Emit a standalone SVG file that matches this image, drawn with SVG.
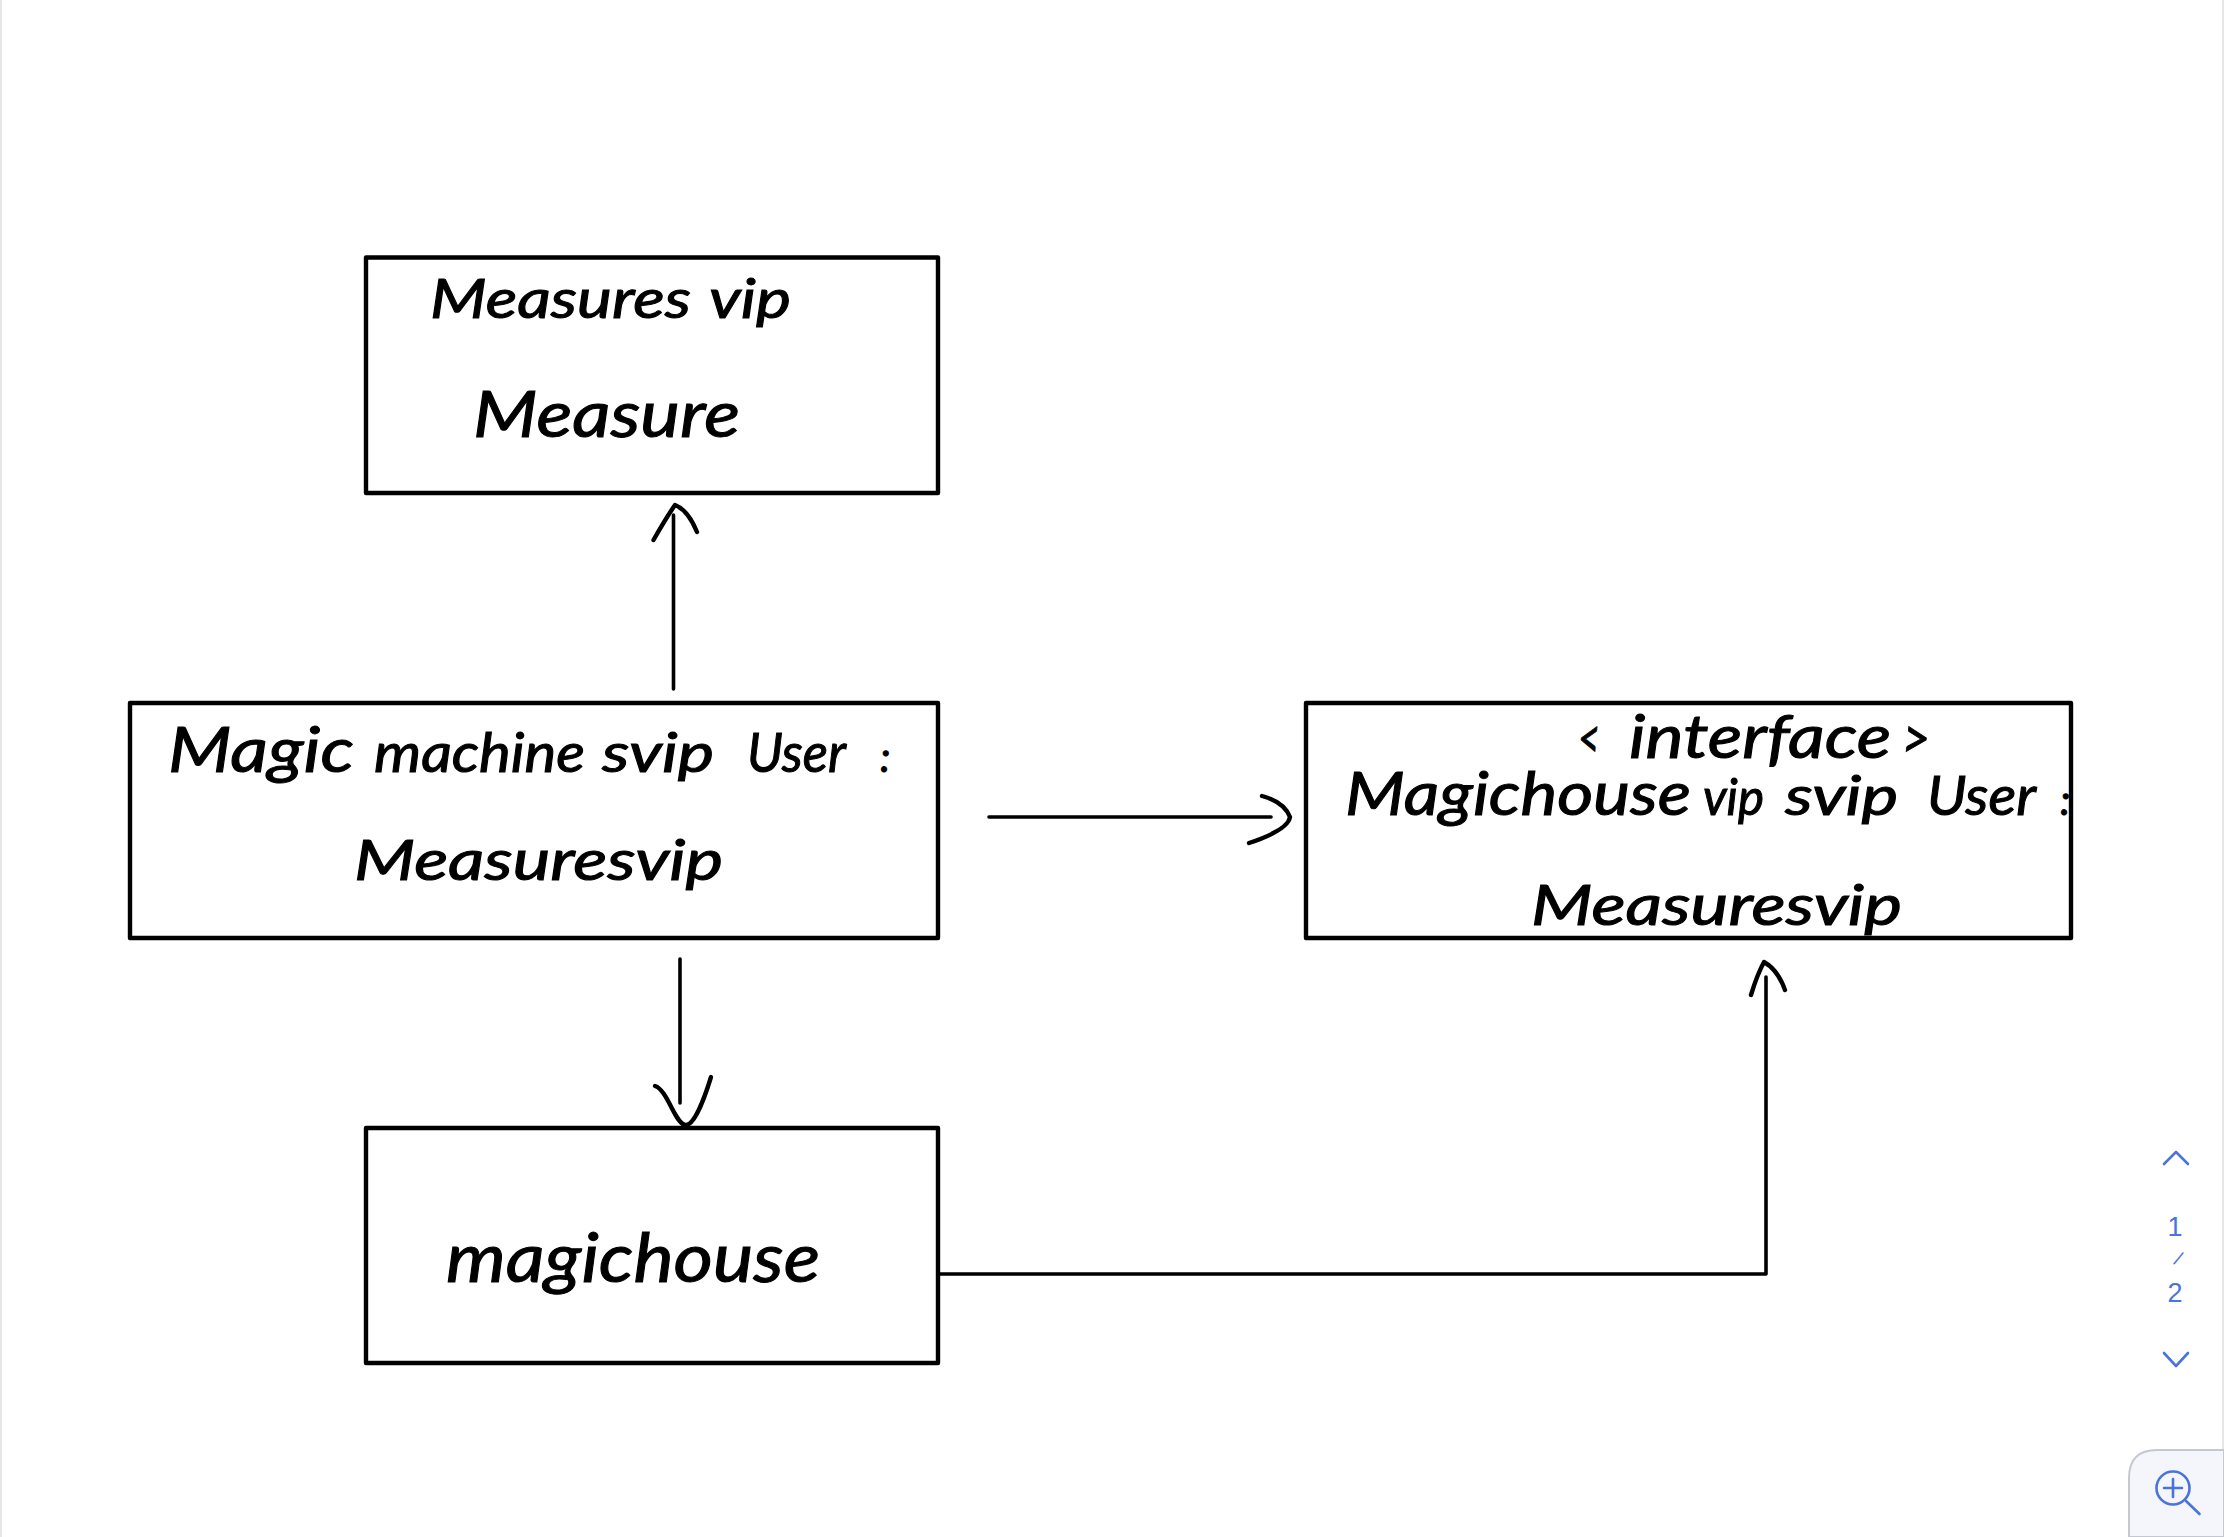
<svg xmlns="http://www.w3.org/2000/svg" width="2224" height="1537" viewBox="0 0 2224 1537">
<defs>
<style>
.box{fill:none;stroke:#000;stroke-width:4.4;stroke-linejoin:round}
.hw{font-family:"Lato","Open Sans",sans-serif;font-style:italic;fill:#000;stroke:#000;stroke-width:1;paint-order:stroke}
.wire{fill:none;stroke:#000;stroke-width:3.6;stroke-linecap:round;stroke-linejoin:round}
.head{fill:none;stroke:#000;stroke-width:4.4;stroke-linecap:round;stroke-linejoin:round}
.ui{fill:none;stroke:#4a74db;stroke-width:2.6;stroke-linecap:round;stroke-linejoin:round}
.uit{font-family:"Liberation Sans",Arial,sans-serif;font-size:27px;fill:#4a74db;text-anchor:middle}
</style>
</defs>
<rect width="2224" height="1537" fill="#fff"/>
<g id="page-edges"><path d="M1 0V1537M2223 0V1450" fill="none" stroke="#dcdee2" stroke-width="1.5"/></g>

<g id="connectors">
<path class="wire" d="M673.5 689V515"/>
<path class="head" d="M653.500 540Q666 518 675 505Q688 510 697 532"/>
<path class="wire" d="M989 817H1271"/>
<path class="head" d="M1262 796Q1284 802 1290 817Q1288 830 1249 843"/>
<path class="wire" d="M680 959V1103"/>
<path class="head" d="M655 1086C668 1090 675 1125 686 1125C694 1125 704 1100 711 1077"/>
<path class="wire" d="M938 1274H1766V977"/>
<path class="head" d="M1751 995Q1757 975 1764 962Q1778 970 1785 990"/>
</g>

<g id="node-measure">
<rect class="box" x="366" y="257.5" width="572" height="235.5"/>
<text class="hw" x="430" y="318" font-size="54" textLength="261" lengthAdjust="spacingAndGlyphs">Measures</text>
<text class="hw" x="709" y="318" font-size="54" textLength="82" lengthAdjust="spacingAndGlyphs">vip</text>
<text class="hw" x="473" y="437" font-size="64" textLength="267" lengthAdjust="spacingAndGlyphs">Measure</text>
</g>

<g id="node-magic-machine">
<rect class="box" x="130" y="703" width="808" height="235"/>
<text class="hw" x="168" y="772" font-size="62" textLength="186" lengthAdjust="spacingAndGlyphs">Magic</text>
<text class="hw" x="374" y="772" font-size="54" textLength="211" lengthAdjust="spacingAndGlyphs">machine</text>
<text class="hw" x="602" y="772" font-size="54" textLength="112" lengthAdjust="spacingAndGlyphs">svip</text>
<text class="hw" x="747" y="772" font-size="54" textLength="99" lengthAdjust="spacingAndGlyphs">User</text>
<text class="hw" x="880" y="772" font-size="42">:</text>
<text class="hw" x="354" y="880" font-size="56" textLength="369" lengthAdjust="spacingAndGlyphs">Measuresvip</text>
</g>

<g id="node-interface">
<rect class="box" x="1306" y="703" width="765" height="235"/>
<text class="hw" x="1578" y="758" font-size="56" textLength="22" lengthAdjust="spacingAndGlyphs">&lt;</text>
<text class="hw" x="1629" y="758" font-size="60" textLength="262" lengthAdjust="spacingAndGlyphs">interface</text>
<text class="hw" x="1902" y="758" font-size="56" textLength="28" lengthAdjust="spacingAndGlyphs">&gt;</text>
<text class="hw" x="1345" y="815" font-size="60" textLength="346" lengthAdjust="spacingAndGlyphs">Magichouse</text>
<text class="hw" x="1703" y="815" font-size="50" textLength="61" lengthAdjust="spacingAndGlyphs">vip</text>
<text class="hw" x="1785" y="815" font-size="54" textLength="113" lengthAdjust="spacingAndGlyphs">svip</text>
<text class="hw" x="1927" y="815" font-size="54" textLength="109" lengthAdjust="spacingAndGlyphs">User</text>
<text class="hw" x="2060" y="815" font-size="42">:</text>
<text class="hw" x="1531" y="925" font-size="56" textLength="371" lengthAdjust="spacingAndGlyphs">Measuresvip</text>
</g>

<g id="node-magichouse">
<rect class="box" x="366" y="1128" width="572" height="235"/>
<text class="hw" x="446" y="1282" font-size="68" textLength="374" lengthAdjust="spacingAndGlyphs">magichouse</text>
</g>

<g id="pager">
<path class="ui" d="M2164 1164L2176 1152L2188 1164"/>
<text class="uit" x="2175" y="1236">1</text>
<text class="uit" x="0" y="0" style="font-size:20px" transform="translate(2175.5 1265) rotate(24)">/</text>
<text class="uit" x="2175" y="1302">2</text>
<path class="ui" d="M2164 1353L2176 1366L2188 1353"/>
</g>

<g id="zoom-button">
<path d="M2129 1537V1478Q2129 1450 2157 1450H2224V1537Z" fill="#f4f6fb" stroke="#c4c8d0" stroke-width="2"/>
<circle class="ui" cx="2173" cy="1488" r="16.5"/>
<path class="ui" d="M2164 1488H2182M2173 1479V1497M2186 1501L2199.500 1514"/>
</g>
</svg>
